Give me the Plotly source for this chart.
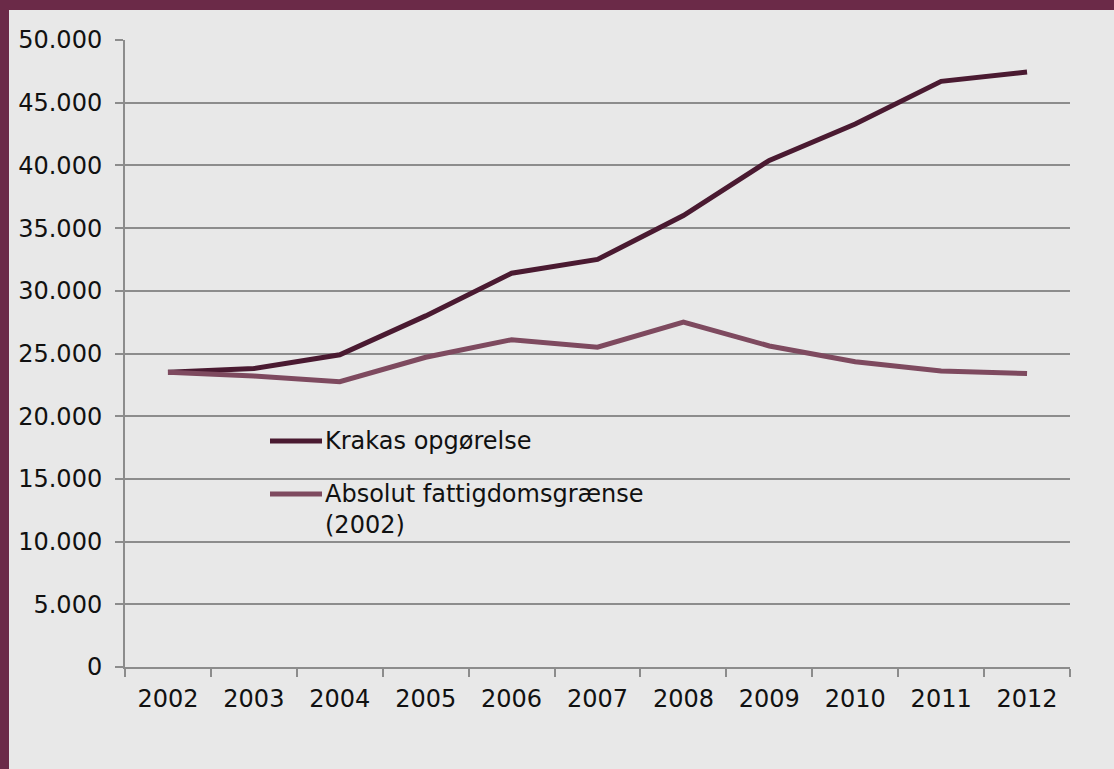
import plotly.graph_objects as go

years = ["2002", "2003", "2004", "2005", "2006", "2007", "2008", "2009", "2010", "2011", "2012"]
krakas = [23500, 23800, 24900, 28000, 31400, 32500, 36000, 40400, 43300, 46700, 47450]
absolut = [23500, 23200, 22750, 24700, 26100, 25500, 27500, 25600, 24350, 23600, 23400]
y_ticks = [0, 5000, 10000, 15000, 20000, 25000, 30000, 35000, 40000, 45000, 50000]
y_labels = ["0", "5.000", "10.000", "15.000", "20.000", "25.000", "30.000",
            "35.000", "40.000", "45.000", "50.000"]

names = ["Krakas opgørelse", "Absolut fattigdomsgrænse<br>(2002)"]
colours = ["#4a1a31", "#7e4a5f"]

BG = "#e8e8e8"
FRAME = "#6b2a48"
GRID = "#8c8c8c"
FONT = dict(family="DejaVu Sans, Verdana, sans-serif", size=24, color="#111111")

fig = go.Figure()
for vals, name, col in zip([krakas, absolut], names, colours):
    fig.add_trace(go.Scatter(x=years, y=vals, mode="lines", name=name,
                             line=dict(color=col, width=5), showlegend=False))

fig.update_layout(
    width=1114, height=769,
    paper_bgcolor=BG, plot_bgcolor=BG,
    margin=dict(l=125, r=44, t=40, b=102),
    font=FONT,
)
fig.update_xaxes(
    type="category", range=[-0.5, 10.5], tickson="boundaries",
    ticks="outside", ticklen=8, tickwidth=2, tickcolor=GRID,
    showline=True, linecolor=GRID, linewidth=2,
    showgrid=False, ticklabelstandoff=9,
)
fig.update_yaxes(
    range=[0, 50000], tickvals=y_ticks, ticktext=y_labels,
    ticks="outside", ticklen=8, tickwidth=2, tickcolor=GRID,
    showline=True, linecolor=GRID, linewidth=2,
    showgrid=True, gridcolor=GRID, gridwidth=2,
    zeroline=False, ticklabelstandoff=8,
)

# frame: thick band on top, thin strip on the left
W = 1114 - 125 - 44
H = 769 - 40 - 102
fig.add_shape(type="rect", xref="paper", yref="paper",
              x0=-125 / W, x1=(1114 - 125) / W, y0=1 + 30 / H, y1=1 + 40 / H,
              fillcolor=FRAME, line_width=0, layer="above")
fig.add_shape(type="rect", xref="paper", yref="paper",
              x0=-125 / W, x1=-116 / W, y0=-102 / H, y1=1 + 40 / H,
              fillcolor=FRAME, line_width=0, layer="above")

# legend drawn inside the plot area
legend_y = [(667 - 441) / H, (667 - 494) / H]
for name, col, ly in zip(names, colours, legend_y):
    fig.add_shape(type="line", xref="paper", yref="paper",
                  x0=(270 - 125) / W, x1=(322 - 125) / W, y0=ly, y1=ly,
                  line=dict(color=col, width=5))
    fig.add_annotation(xref="paper", yref="paper", x=(324 - 125) / W,
                       y=ly + 15 / H, xanchor="left", yanchor="top",
                       text=name, showarrow=False, align="left", font=FONT,
                       borderpad=0)

fig.write_html("out.html", config={"displayModeBar": False},
               post_script="document.body.style.margin = '0';")
